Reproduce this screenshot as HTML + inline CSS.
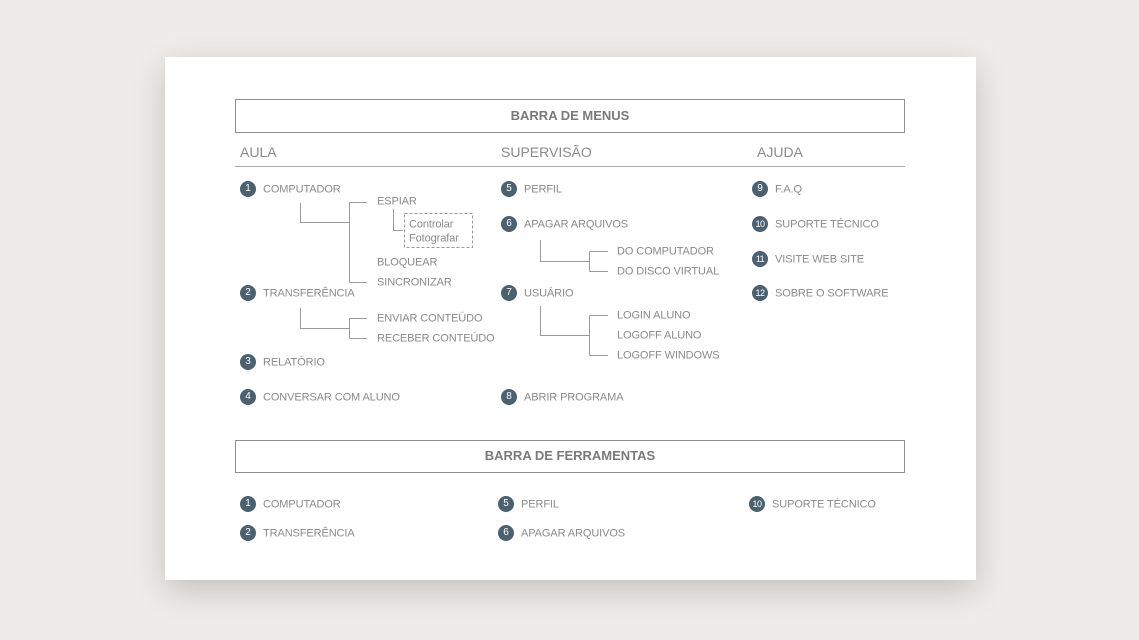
<!DOCTYPE html>
<html><head><meta charset="utf-8"><style>
body{margin:0;width:1139px;height:640px;background:#efebe9;position:relative;overflow:hidden;font-family:"Liberation Sans",sans-serif;}
#card{position:absolute;left:165px;top:57px;width:811px;height:523px;background:#fff;box-shadow:0 10px 30px rgba(0,0,0,0.18);}
.a{position:absolute;}
.box{position:absolute;left:235px;width:670px;border:1px solid #8e8e8e;color:#7a7a7a;font-weight:bold;font-size:13px;text-align:center;box-sizing:border-box;}
.h{position:absolute;font-size:14px;color:#8a8a8a;line-height:16px;transform:translateY(-50%);}
.t{position:absolute;font-size:11px;color:#8a8a8a;line-height:14px;transform:translateY(-45%);white-space:nowrap;letter-spacing:-0.1px;}
.n{position:absolute;width:16px;height:16px;border-radius:50%;background:#4c6170;color:#fff;font-size:10px;line-height:16px;text-align:center;transform:translate(-50%,-50%);}
.n.s{font-size:9px;letter-spacing:-0.5px;}
</style></head><body>
<div id="card"></div>
<div class="box" style="top:99px;height:34px;line-height:31px;">BARRA DE MENUS</div>
<div class="h" style="left:240px;top:152px">AULA</div>
<div class="h" style="left:501px;top:152px">SUPERVISÃO</div>
<div class="h" style="left:757px;top:152px">AJUDA</div>
<div class="a" style="left:235px;top:166px;width:670px;height:1px;background:#aaa"></div>

<svg class="a" style="left:0;top:0" width="1139" height="640">
<g stroke="#9a9a9a" stroke-width="1" fill="none">
<path d="M300.5 203V222.5H349.5M349.5 202V282.5M349.5 202.5H367M349.5 282.5H367"/>
<path d="M393.5 209V230.5H403"/>
<path d="M300.5 308V328.5H349.5M349.5 318V338.5M349.5 318.5H367M349.5 338.5H367"/>
<path d="M540.5 240V261.5H589.5M589.5 251.5V271.5M589.5 251.5H608M589.5 271.5H608"/>
<path d="M540.5 306V335.5H589.5M589.5 315.5V355.5M589.5 315.5H608M589.5 355.5H608"/>
</g>
<rect x="404.5" y="213.5" width="68" height="34" fill="none" stroke="#999" stroke-dasharray="3,2"/>
</svg>

<div class="n" style="left:248px;top:189px">1</div><div class="t" style="left:263px;top:189px">COMPUTADOR</div>
<div class="t" style="left:377px;top:201px">ESPIAR</div>
<div class="t" style="left:409px;top:224px">Controlar</div>
<div class="t" style="left:409px;top:238px">Fotografar</div>
<div class="t" style="left:377px;top:262px">BLOQUEAR</div>
<div class="t" style="left:377px;top:282px">SINCRONIZAR</div>
<div class="n" style="left:248px;top:293px">2</div><div class="t" style="left:263px;top:293px">TRANSFERÊNCIA</div>
<div class="t" style="left:377px;top:318px">ENVIAR CONTEÚDO</div>
<div class="t" style="left:377px;top:338px">RECEBER CONTEÚDO</div>
<div class="n" style="left:248px;top:362px">3</div><div class="t" style="left:263px;top:362px">RELATÓRIO</div>
<div class="n" style="left:248px;top:397px">4</div><div class="t" style="left:263px;top:397px">CONVERSAR COM ALUNO</div>

<div class="n" style="left:509px;top:189px">5</div><div class="t" style="left:524px;top:189px">PERFIL</div>
<div class="n" style="left:509px;top:224px">6</div><div class="t" style="left:524px;top:224px">APAGAR ARQUIVOS</div>
<div class="t" style="left:617px;top:251px">DO COMPUTADOR</div>
<div class="t" style="left:617px;top:271px">DO DISCO VIRTUAL</div>
<div class="n" style="left:509px;top:293px">7</div><div class="t" style="left:524px;top:293px">USUÁRIO</div>
<div class="t" style="left:617px;top:315px">LOGIN ALUNO</div>
<div class="t" style="left:617px;top:335px">LOGOFF ALUNO</div>
<div class="t" style="left:617px;top:355px">LOGOFF WINDOWS</div>
<div class="n" style="left:509px;top:397px">8</div><div class="t" style="left:524px;top:397px">ABRIR PROGRAMA</div>

<div class="n" style="left:760px;top:189px">9</div><div class="t" style="left:775px;top:189px">F.A.Q</div>
<div class="n s" style="left:760px;top:224px">10</div><div class="t" style="left:775px;top:224px">SUPORTE TÉCNICO</div>
<div class="n s" style="left:760px;top:259px">11</div><div class="t" style="left:775px;top:259px">VISITE WEB SITE</div>
<div class="n s" style="left:760px;top:293px">12</div><div class="t" style="left:775px;top:293px">SOBRE O SOFTWARE</div>

<div class="box" style="top:440px;height:33px;line-height:30px;">BARRA DE FERRAMENTAS</div>
<div class="n" style="left:248px;top:504px">1</div><div class="t" style="left:263px;top:504px">COMPUTADOR</div>
<div class="n" style="left:248px;top:533px">2</div><div class="t" style="left:263px;top:533px">TRANSFERÊNCIA</div>
<div class="n" style="left:506px;top:504px">5</div><div class="t" style="left:521px;top:504px">PERFIL</div>
<div class="n" style="left:506px;top:533px">6</div><div class="t" style="left:521px;top:533px">APAGAR ARQUIVOS</div>
<div class="n s" style="left:757px;top:504px">10</div><div class="t" style="left:772px;top:504px">SUPORTE TÉCNICO</div>
</body></html>
